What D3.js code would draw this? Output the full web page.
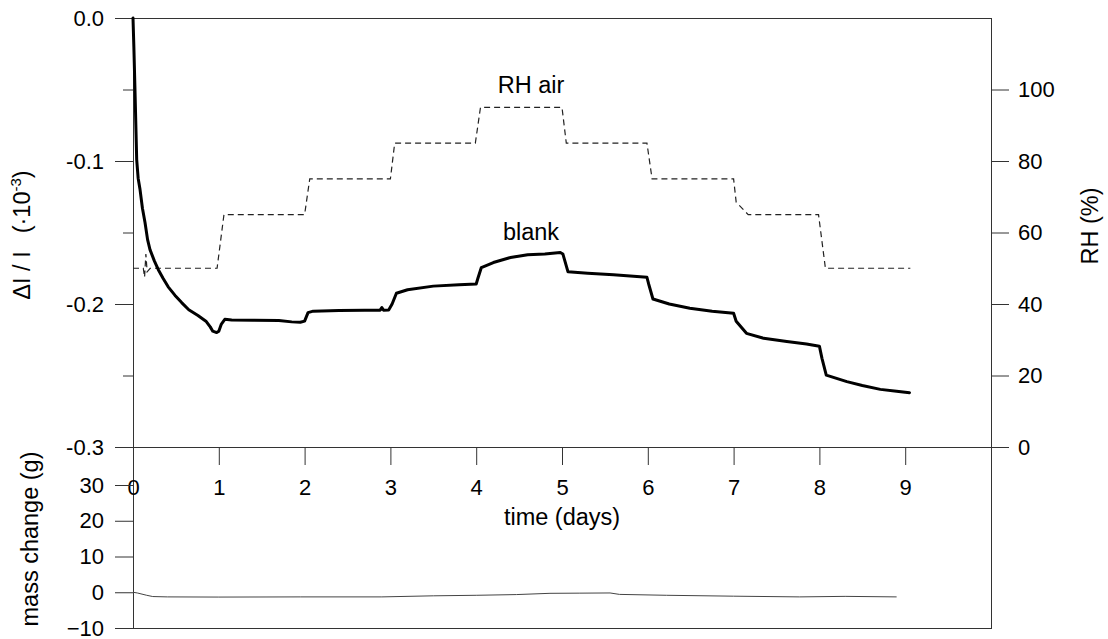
<!DOCTYPE html>
<html>
<head>
<meta charset="utf-8">
<script src="https://cdn.jsdelivr.net/npm/d3@7"></script>
<style>
  html, body { margin: 0; padding: 0; background: #fff; }
  svg { display: block; font-family: "Liberation Sans", Arial, sans-serif; }
</style>
</head>
<body>
<svg id="chart" width="1108" height="639"></svg>
<script>
// Relative change of the blank signal (ΔI/I, ×10^-3) against time in days
const blankSeries = [
  [0, 0.0], [0.01, -0.02], [0.023, -0.05], [0.043, -0.099], [0.06, -0.112],
  [0.082, -0.120], [0.11, -0.133], [0.14, -0.143], [0.17, -0.155], [0.198, -0.162],
  [0.25, -0.170], [0.295, -0.176], [0.35, -0.182], [0.41, -0.188], [0.49, -0.194],
  [0.567, -0.199], [0.65, -0.204], [0.757, -0.208], [0.85, -0.212], [0.90, -0.216],
  [0.93, -0.219], [0.975, -0.220], [1.0, -0.219], [1.03, -0.214], [1.07, -0.2107],
  [1.15, -0.2112], [1.4, -0.2113], [1.7, -0.2115], [1.85, -0.2125], [1.95, -0.2128],
  [2.0, -0.212], [2.04, -0.206], [2.1, -0.2050], [2.4, -0.2046], [2.7, -0.2043],
  [2.88, -0.2043], [2.9, -0.2025], [2.92, -0.2043], [2.98, -0.2042], [3.02, -0.200],
  [3.07, -0.1925], [3.2, -0.190], [3.5, -0.1875], [3.8, -0.1865], [4.0, -0.186],
  [4.02, -0.182], [4.06, -0.1745], [4.2, -0.171], [4.4, -0.1675], [4.6, -0.1655],
  [4.8, -0.165], [4.98, -0.1640], [5.01, -0.165], [5.07, -0.1775], [5.3, -0.1785],
  [5.6, -0.1795], [5.99, -0.1813], [6.01, -0.186], [6.06, -0.1965], [6.25, -0.200],
  [6.49, -0.203], [6.75, -0.205], [7.0, -0.2065], [7.03, -0.212], [7.15, -0.2205],
  [7.35, -0.224], [7.62, -0.2263], [7.85, -0.228], [8.0, -0.2295], [8.03, -0.238],
  [8.08, -0.2497], [8.32, -0.2543], [8.5, -0.257], [8.71, -0.2597], [8.9, -0.261],
  [9.05, -0.262]
];

// Relative humidity of the air (%)
const rhSeries = [
  [0, 50], [0.12, 50], [0.135, 47.5], [0.15, 54], [0.165, 49], [0.2, 50],
  [0.98, 50], [1.06, 65], [2.0, 65], [2.06, 75], [3.0, 75], [3.05, 85],
  [3.99, 85], [4.05, 95], [5.0, 95], [5.05, 85], [5.99, 85], [6.05, 75],
  [7.0, 75], [7.03, 68.5], [7.17, 65], [7.99, 65], [8.07, 50], [9.06, 50]
];

// Mass change of the sample (g)
const massSeries = [
  [0, 0], [0.05, -0.2], [0.16, -0.85], [0.23, -1.2], [0.4, -1.3], [1.0, -1.35],
  [1.95, -1.3], [2.9, -1.3], [3.5, -1.0], [4.0, -0.85], [4.47, -0.65], [4.86, -0.3],
  [5.2, -0.25], [5.56, -0.2], [5.67, -0.6], [6.22, -0.85], [7.0, -1.1], [7.77, -1.3],
  [8.3, -1.15], [8.9, -1.3]
];

// Tick values
const timeTicks = [0, 1, 2, 3, 4, 5, 6, 7, 8, 9, 10];
const timeTickLabels = ["0", "1", "2", "3", "4", "5", "6", "7", "8", "9", ""];
const signalTicks = [0, -0.1, -0.2, -0.3];
const signalTickLabels = ["0.0", "-0.1", "-0.2", "-0.3"];
const signalMinorTicks = [-0.05, -0.15, -0.25];
const rhTicks = [0, 20, 40, 60, 80, 100];
const massTicks = [30, 20, 10, 0, -10];

const svg = d3.select("#chart");

const x = d3.scaleLinear().domain([0, 10]).range([133, 991]);
const yL = d3.scaleLinear().domain([-0.3, 0]).range([447, 18]);
const yR = d3.scaleLinear().domain([0, 120]).range([447, 18]);
const yM = d3.scaleLinear().domain([-10, 30]).range([628, 485]);

const axisColor = "#333";
const tickFont = 22;
const titleFont = 23.5;

function styleAxis(g) {
  g.select(".domain").remove();
  g.selectAll(".tick line").attr("stroke", axisColor);
  g.selectAll(".tick text")
    .attr("fill", "#000")
    .attr("font-size", tickFont)
    .attr("font-family", "Liberation Sans, Arial, sans-serif");
}

// Frame lines
const frame = svg.append("g").attr("stroke", axisColor).attr("stroke-width", 1).attr("fill", "none");
frame.append("line").attr("x1", 133.5).attr("x2", 133.5).attr("y1", 18).attr("y2", 628.5);
frame.append("line").attr("x1", 991.5).attr("x2", 991.5).attr("y1", 18).attr("y2", 628.5);
frame.append("line").attr("x1", 133).attr("x2", 992).attr("y1", 18.5).attr("y2", 18.5);
frame.append("line").attr("x1", 133).attr("x2", 992).attr("y1", 447.5).attr("y2", 447.5);
frame.append("line").attr("x1", 133).attr("x2", 992).attr("y1", 628.5).attr("y2", 628.5);

// Left axis of the upper panel
svg.append("g")
  .attr("transform", "translate(133,0)")
  .call(d3.axisLeft(yL).tickValues(signalTicks).tickSize(18).tickPadding(11)
    .tickFormat((d, i) => signalTickLabels[i]))
  .call(styleAxis);

svg.append("g")
  .attr("transform", "translate(133,0)")
  .call(d3.axisLeft(yL).tickValues(signalMinorTicks).tickSize(10).tickFormat(""))
  .call(styleAxis);

// Right axis (RH)
svg.append("g")
  .attr("transform", "translate(991,0)")
  .call(d3.axisRight(yR).tickValues(rhTicks).tickSize(18).tickPadding(9))
  .call(styleAxis);

// Time axis
svg.append("g")
  .attr("transform", "translate(0,447)")
  .call(d3.axisBottom(x).tickValues(timeTicks).tickSize(18).tickPadding(14)
    .tickFormat((d, i) => timeTickLabels[i]))
  .call(styleAxis);

// Left axis of the mass panel
svg.append("g")
  .attr("transform", "translate(133,0)")
  .call(d3.axisLeft(yM).tickValues(massTicks).tickSize(18).tickPadding(11))
  .call(styleAxis);

// Series
const lineL = d3.line().x(d => x(d[0])).y(d => yL(d[1]));
const lineR = d3.line().x(d => x(d[0])).y(d => yR(d[1]));
const lineM = d3.line().x(d => x(d[0])).y(d => yM(d[1]));

svg.append("path")
  .datum(rhSeries)
  .attr("d", lineR)
  .attr("fill", "none")
  .attr("stroke", "#222")
  .attr("stroke-width", 1.2)
  .attr("stroke-dasharray", "6,4");

svg.append("path")
  .datum(blankSeries)
  .attr("d", lineL)
  .attr("fill", "none")
  .attr("stroke", "#000")
  .attr("stroke-width", 3)
  .attr("stroke-linejoin", "round")
  .attr("stroke-linecap", "round");

svg.append("path")
  .datum(massSeries)
  .attr("d", lineM)
  .attr("fill", "none")
  .attr("stroke", "#444")
  .attr("stroke-width", 1);

// Text labels
const txt = svg.append("g").attr("font-size", titleFont).attr("fill", "#000");

txt.append("text").attr("x", x(5)).attr("y", 525).attr("text-anchor", "middle").text("time (days)");
txt.append("text").attr("x", 531).attr("y", 93).attr("text-anchor", "middle").text("RH air");
txt.append("text").attr("x", 531).attr("y", 240).attr("text-anchor", "middle").text("blank");

txt.append("text")
  .attr("transform", "translate(1098,226) rotate(-90)")
  .attr("text-anchor", "middle")
  .text("RH (%)");

txt.append("text")
  .attr("transform", "translate(38,539) rotate(-90)")
  .attr("text-anchor", "middle")
  .text("mass change (g)");

const yTitle = txt.append("text")
  .attr("transform", "translate(30,235) rotate(-90)")
  .attr("text-anchor", "middle");
yTitle.append("tspan").text("ΔI / I");
yTitle.append("tspan").attr("dx", 18).text("(·10");
yTitle.append("tspan").attr("dy", -9).attr("font-size", 15).text("-3");
yTitle.append("tspan").attr("dy", 9).text(")");
</script>
</body>
</html>
